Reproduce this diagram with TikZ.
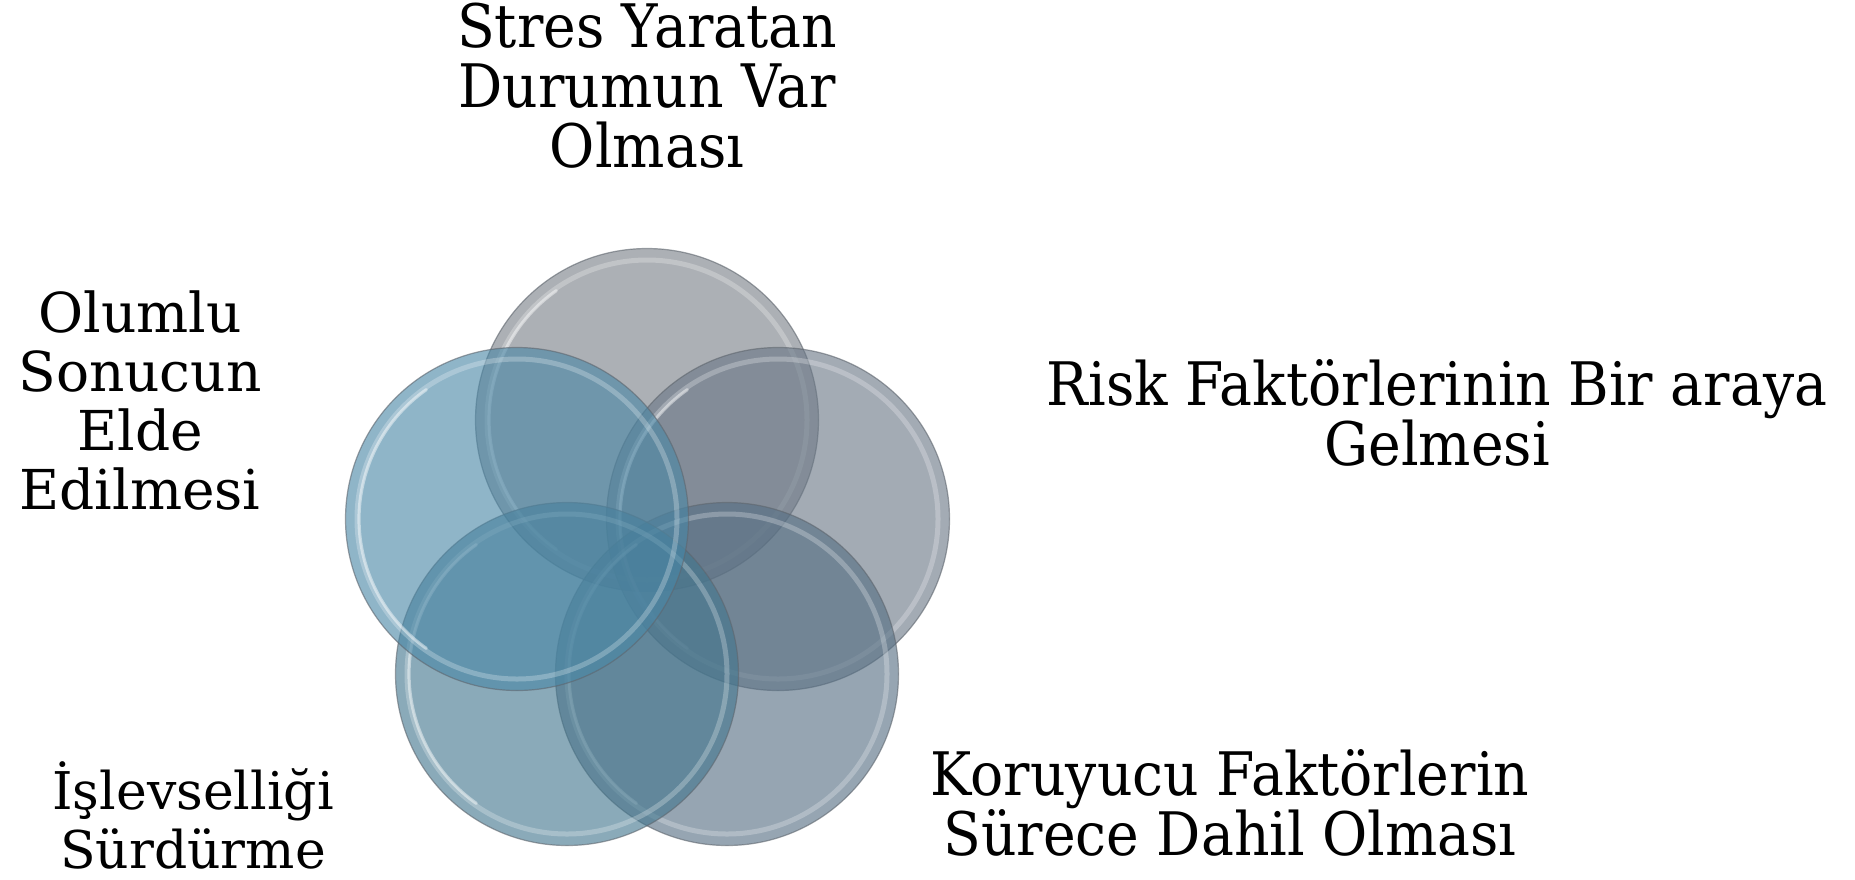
\documentclass[tikz,border=0pt]{standalone}
\usepackage{fontspec}
\setmainfont{DejaVu Serif}
\newfontfamily\narrowserif{DejaVu Serif}[FakeStretch=0.92]
\usetikzlibrary{positioning}

\definecolor{toneA}{RGB}{121,127,135}
\definecolor{toneB}{RGB}{106,119,134}
\definecolor{toneC}{RGB}{85,110,131}
\definecolor{toneD}{RGB}{66,118,142}
\definecolor{toneE}{RGB}{74,135,166}
\definecolor{rimgray}{RGB}{95,102,110}

\tikzset{
	disc/.style={circle, minimum size=171.5pt, inner sep=0pt, fill opacity=0.62,
		draw=rimgray, draw opacity=0.6, line width=0.6pt},
	rim/.style={white, line width=2.5pt, opacity=0.25},
	gloss/.style={white, line width=1.6pt, opacity=0.45, line cap=round},
	caption/.style={align=center, inner sep=0pt, font=\fontsize{26}{29.5}\selectfont},
	narrowcaption/.style={caption, font=\narrowserif\fontsize{30}{30}\selectfont}
}

\begin{document}
\begin{tikzpicture}[x=0.5pt, y=-0.5pt]
		\useasboundingbox (0,0) rectangle (1855,879);
		
		% circles, back to front
		\foreach \name/\pos/\col in {stres/{(647,420)}/toneA, risk/{(778,519)}/toneB,
				koruyucu/{(727,674)}/toneC, islev/{(567,674)}/toneD, olumlu/{(517,519)}/toneE} {
			\node[disc, fill=\col] (\name) at \pos {};
			\draw[rim] (\name) circle (80pt);
			\draw[gloss] (\name.center) ++(125:79pt) arc (125:235:79pt);
		}
		
		% captions
		\node[narrowcaption] (tstres) at (647,86) {Stres Yaratan\\Durumun Var\\Olması};
		\node[narrowcaption] (trisk) at (1437,413) {Risk Faktörlerinin Bir araya\\Gelmesi};
		\node[narrowcaption] (tkoruyucu) at (1230,803) {Koruyucu Faktörlerin\\Sürece Dahil Olması};
		\node[caption] (tislev) at (193,815) {İşlevselliği\\Sürdürme};
		\node[caption, font=\fontsize{27.5}{29.5}\selectfont] (tolumlu) at (140,400) {Olumlu\\Sonucun\\Elde\\Edilmesi};
\end{tikzpicture}
\end{document}
